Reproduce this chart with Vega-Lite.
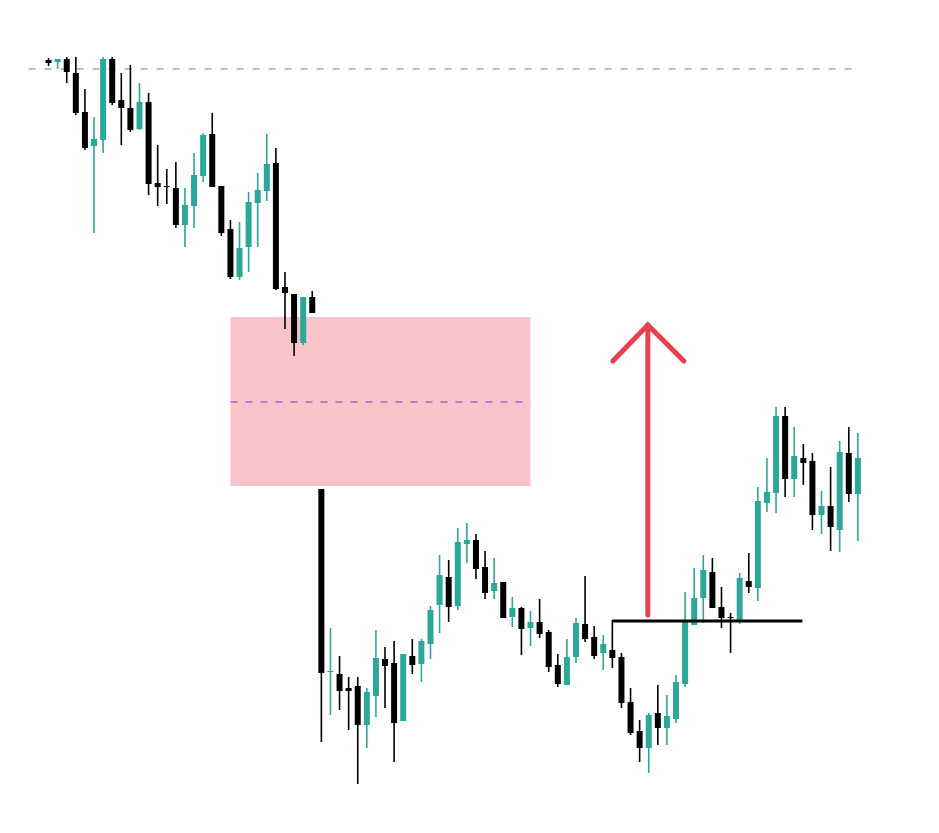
{
  "$schema": "https://vega.github.io/schema/vega-lite/v6.json",
  "description": "Candlestick chart with a pink imbalance zone, breakout level and up arrow.",
  "width": 939,
  "height": 833,
  "autosize": {"type": "fit", "contains": "padding"},
  "padding": 0,
  "background": "#ffffff",
  "config": {
    "view": {"stroke": null},
    "axis": {"disable": true}
  },
  "datasets": {
    "candles": [
      {"i": 1, "o": 773, "h": 775, "l": 767, "c": 770},
      {"i": 2, "o": 771, "h": 774, "l": 764, "c": 774},
      {"i": 3, "o": 774, "h": 776, "l": 750, "c": 761},
      {"i": 4, "o": 760, "h": 776, "l": 718, "c": 720},
      {"i": 5, "o": 721, "h": 744, "l": 683, "c": 685},
      {"i": 6, "o": 687, "h": 716, "l": 600, "c": 694},
      {"i": 7, "o": 693, "h": 776, "l": 680, "c": 774},
      {"i": 8, "o": 774, "h": 776, "l": 728, "c": 730},
      {"i": 9, "o": 733, "h": 760, "l": 688, "c": 725},
      {"i": 10, "o": 725, "h": 768, "l": 701, "c": 703},
      {"i": 11, "o": 704, "h": 750, "l": 703, "c": 731},
      {"i": 12, "o": 731, "h": 740, "l": 638, "c": 649},
      {"i": 13, "o": 650, "h": 688, "l": 627, "c": 646},
      {"i": 14, "o": 647, "h": 664, "l": 629, "c": 646},
      {"i": 15, "o": 645, "h": 671, "l": 605, "c": 608},
      {"i": 16, "o": 608, "h": 645, "l": 586, "c": 628},
      {"i": 17, "o": 627, "h": 680, "l": 605, "c": 658},
      {"i": 18, "o": 657, "h": 700, "l": 651, "c": 698},
      {"i": 19, "o": 699, "h": 720, "l": 646, "c": 646},
      {"i": 20, "o": 647, "h": 647, "l": 597, "c": 600},
      {"i": 21, "o": 604, "h": 613, "l": 554, "c": 556},
      {"i": 22, "o": 556, "h": 611, "l": 553, "c": 585},
      {"i": 23, "o": 586, "h": 641, "l": 561, "c": 631},
      {"i": 24, "o": 630, "h": 660, "l": 586, "c": 643},
      {"i": 25, "o": 642, "h": 699, "l": 632, "c": 669},
      {"i": 26, "o": 670, "h": 685, "l": 543, "c": 544},
      {"i": 27, "o": 546, "h": 561, "l": 504, "c": 540},
      {"i": 28, "o": 539, "h": 539, "l": 477, "c": 490},
      {"i": 29, "o": 490, "h": 536, "l": 488, "c": 536},
      {"i": 30, "o": 536, "h": 542, "l": 520, "c": 520},
      {"i": 31, "o": 344, "h": 344, "l": 91, "c": 160},
      {"i": 32, "o": 161, "h": 205, "l": 118, "c": 162},
      {"i": 33, "o": 159, "h": 177, "l": 123, "c": 142},
      {"i": 34, "o": 145, "h": 156, "l": 103, "c": 142},
      {"i": 35, "o": 147, "h": 156, "l": 49, "c": 108},
      {"i": 36, "o": 108, "h": 145, "l": 85, "c": 141},
      {"i": 37, "o": 137, "h": 203, "l": 116, "c": 175},
      {"i": 38, "o": 174, "h": 186, "l": 125, "c": 167},
      {"i": 39, "o": 170, "h": 192, "l": 71, "c": 110},
      {"i": 40, "o": 112, "h": 179, "l": 112, "c": 179},
      {"i": 41, "o": 177, "h": 194, "l": 159, "c": 168},
      {"i": 42, "o": 169, "h": 194, "l": 151, "c": 192},
      {"i": 43, "o": 189, "h": 227, "l": 174, "c": 223},
      {"i": 44, "o": 228, "h": 278, "l": 200, "c": 258},
      {"i": 45, "o": 256, "h": 273, "l": 211, "c": 226},
      {"i": 46, "o": 227, "h": 305, "l": 223, "c": 291},
      {"i": 47, "o": 289, "h": 310, "l": 270, "c": 293},
      {"i": 48, "o": 293, "h": 299, "l": 254, "c": 264},
      {"i": 49, "o": 266, "h": 282, "l": 234, "c": 240},
      {"i": 50, "o": 242, "h": 275, "l": 234, "c": 250},
      {"i": 51, "o": 251, "h": 251, "l": 215, "c": 215},
      {"i": 52, "o": 216, "h": 236, "l": 206, "c": 225},
      {"i": 53, "o": 225, "h": 226, "l": 178, "c": 204},
      {"i": 54, "o": 205, "h": 222, "l": 187, "c": 211},
      {"i": 55, "o": 211, "h": 234, "l": 195, "c": 199},
      {"i": 56, "o": 201, "h": 203, "l": 161, "c": 166},
      {"i": 57, "o": 168, "h": 179, "l": 146, "c": 149},
      {"i": 58, "o": 148, "h": 194, "l": 148, "c": 176},
      {"i": 59, "o": 176, "h": 215, "l": 170, "c": 210},
      {"i": 60, "o": 209, "h": 257, "l": 191, "c": 194},
      {"i": 61, "o": 196, "h": 207, "l": 174, "c": 177},
      {"i": 62, "o": 180, "h": 198, "l": 163, "c": 189},
      {"i": 63, "o": 183, "h": 213, "l": 165, "c": 175},
      {"i": 64, "o": 176, "h": 180, "l": 125, "c": 130},
      {"i": 65, "o": 131, "h": 145, "l": 98, "c": 100},
      {"i": 66, "o": 102, "h": 113, "l": 71, "c": 85},
      {"i": 67, "o": 85, "h": 120, "l": 60, "c": 118},
      {"i": 68, "o": 120, "h": 148, "l": 88, "c": 105},
      {"i": 69, "o": 105, "h": 138, "l": 88, "c": 117},
      {"i": 70, "o": 114, "h": 158, "l": 110, "c": 151},
      {"i": 71, "o": 149, "h": 241, "l": 146, "c": 211},
      {"i": 72, "o": 208, "h": 265, "l": 208, "c": 235},
      {"i": 73, "o": 235, "h": 278, "l": 210, "c": 263},
      {"i": 74, "o": 261, "h": 275, "l": 225, "c": 225},
      {"i": 75, "o": 226, "h": 246, "l": 205, "c": 215},
      {"i": 76, "o": 216, "h": 220, "l": 180, "c": 215},
      {"i": 77, "o": 213, "h": 260, "l": 209, "c": 255},
      {"i": 78, "o": 252, "h": 280, "l": 240, "c": 246},
      {"i": 79, "o": 245, "h": 346, "l": 232, "c": 332},
      {"i": 80, "o": 330, "h": 375, "l": 321, "c": 341},
      {"i": 81, "o": 340, "h": 426, "l": 320, "c": 417},
      {"i": 82, "o": 417, "h": 426, "l": 336, "c": 354},
      {"i": 83, "o": 354, "h": 406, "l": 336, "c": 377},
      {"i": 84, "o": 375, "h": 389, "l": 348, "c": 370},
      {"i": 85, "o": 372, "h": 380, "l": 303, "c": 318},
      {"i": 86, "o": 318, "h": 342, "l": 299, "c": 327},
      {"i": 87, "o": 327, "h": 366, "l": 282, "c": 306},
      {"i": 88, "o": 303, "h": 392, "l": 281, "c": 381},
      {"i": 89, "o": 380, "h": 406, "l": 331, "c": 339},
      {"i": 90, "o": 339, "h": 400, "l": 292, "c": 375}
    ],
    "zone": [{"x1": 21.0, "x2": 54.0, "top": 516, "bottom": 347, "mid": 431}],
    "levels": [
      {"name": "top", "x1": -1.2, "x2": 90.1, "p": 764},
      {"name": "breakout", "x1": 63.0, "x2": 83.9, "p": 212}
    ],
    "arrowShaft": [{"x": 66.9, "from": 218, "to": 508}],
    "arrowHead": [
      {"k": 1, "x": 63.05, "p": 472},
      {"k": 2, "x": 66.9, "p": 508},
      {"k": 3, "x": 70.86, "p": 472}
    ]
  },
  "layer": [
    {
      "data": {"name": "zone"},
      "mark": {"type": "rect", "color": "#f9c3ca"},
      "encoding": {
        "x": {"field": "x1", "type": "quantitative", "axis": null, "scale": {"domain": [-3.79, 98.37], "nice": false, "zero": false}},
        "x2": {"field": "x2"},
        "y": {"field": "top", "type": "quantitative", "axis": null, "scale": {"domain": [0, 833], "nice": false, "zero": false}},
        "y2": {"field": "bottom"}
      }
    },
    {
      "data": {"name": "zone"},
      "mark": {"type": "rule", "color": "#b65fc4", "strokeWidth": 1.5, "strokeDash": [7, 8]},
      "encoding": {
        "x": {"field": "x1", "type": "quantitative"},
        "x2": {"field": "x2"},
        "y": {"field": "mid", "type": "quantitative"}
      }
    },
    {
      "data": {"name": "levels"},
      "transform": [{"filter": "datum.name == 'top'"}],
      "mark": {"type": "rule", "color": "#a8a8a8", "strokeWidth": 1.5, "strokeDash": [7, 9]},
      "encoding": {
        "x": {"field": "x1", "type": "quantitative"},
        "x2": {"field": "x2"},
        "y": {"field": "p", "type": "quantitative"}
      }
    },
    {
      "data": {"name": "candles"},
      "mark": {"type": "rule", "strokeWidth": 1.6},
      "encoding": {
        "x": {"field": "i", "type": "quantitative"},
        "y": {"field": "l", "type": "quantitative"},
        "y2": {"field": "h"},
        "color": {"condition": {"test": "datum.c < datum.o", "value": "#000000"}, "value": "#2ba89a"}
      }
    },
    {
      "data": {"name": "candles"},
      "mark": {"type": "bar", "size": 6},
      "encoding": {
        "x": {"field": "i", "type": "quantitative"},
        "y": {"field": "o", "type": "quantitative"},
        "y2": {"field": "c"},
        "color": {"condition": {"test": "datum.c < datum.o", "value": "#000000"}, "value": "#2ba89a"}
      }
    },
    {
      "data": {"name": "levels"},
      "transform": [{"filter": "datum.name == 'breakout'"}],
      "mark": {"type": "rule", "color": "#000000", "strokeWidth": 3},
      "encoding": {
        "x": {"field": "x1", "type": "quantitative"},
        "x2": {"field": "x2"},
        "y": {"field": "p", "type": "quantitative"}
      }
    },
    {
      "data": {"name": "arrowShaft"},
      "mark": {"type": "rule", "color": "#e8404e", "strokeWidth": 5, "strokeCap": "round"},
      "encoding": {
        "x": {"field": "x", "type": "quantitative"},
        "y": {"field": "from", "type": "quantitative"},
        "y2": {"field": "to"}
      }
    },
    {
      "data": {"name": "arrowHead"},
      "mark": {"type": "line", "color": "#e8404e", "strokeWidth": 5, "strokeCap": "round", "strokeJoin": "miter"},
      "encoding": {
        "x": {"field": "x", "type": "quantitative"},
        "y": {"field": "p", "type": "quantitative"},
        "order": {"field": "k"}
      }
    }
  ]
}
